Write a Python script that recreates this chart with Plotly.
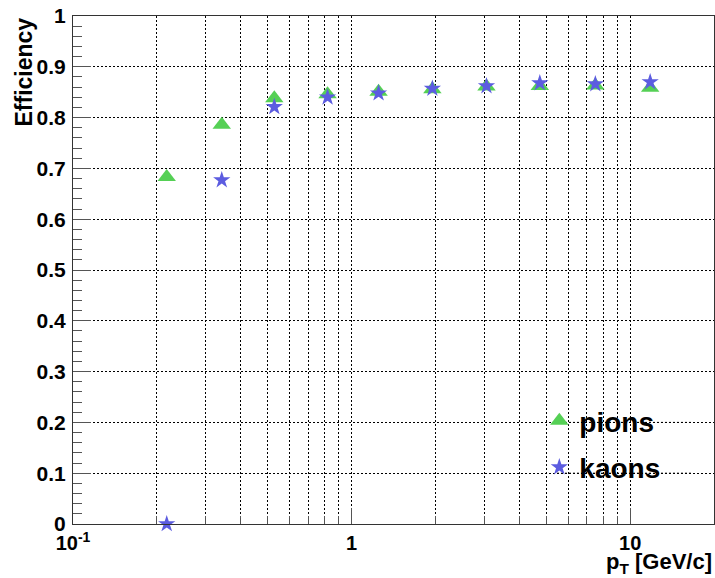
import plotly.graph_objects as go

# ---- data ----
pt = [0.217, 0.342, 0.528, 0.82, 1.25, 1.95, 3.05, 4.74, 7.5, 11.8]
eff_pions = [0.683, 0.786, 0.838, 0.846, 0.851, 0.856, 0.861, 0.862, 0.863, 0.859]
eff_kaons = [0.0, 0.677, 0.821, 0.840, 0.848, 0.857, 0.862, 0.868, 0.866, 0.870]
series_names = ["pions", "kaons"]
x_major_ticks = [0.1, 1, 10]
x_major_text = ["10<sup>-1</sup>", "1", "10"]
x_minor_ticks = [0.2, 0.3, 0.4, 0.5, 0.6, 0.7, 0.8, 0.9, 2, 3, 4, 5, 6, 7, 8, 9]

FONT = "Liberation Sans"
GREEN = "#55D055"
BLUE = "#5C5CE0"
GRID = dict(color="#000000", dash="2px,2px", width=1)

fig = go.Figure()
fig.add_trace(go.Scatter(
    x=pt, y=eff_pions, mode="markers", name=series_names[0], legendgroup="a",
    marker=dict(symbol="triangle-up", size=16, color=GREEN, line=dict(width=0)),
    cliponaxis=False))
fig.add_trace(go.Scatter(
    x=pt, y=eff_kaons, mode="markers", name=series_names[1], legendgroup="b",
    marker=dict(symbol="star", size=13, color=BLUE, line=dict(width=0)),
    cliponaxis=False))

# white patch (legend box) hiding vertical grid lines, horizontal ones redrawn
shapes = [dict(type="rect", xref="paper", yref="paper", x0=0.755, x1=0.965,
               y0=0.057, y1=0.254, fillcolor="white", line=dict(width=0),
               layer="between")]
for yv in (0.1, 0.2):
    shapes.append(dict(type="line", xref="paper", yref="y", x0=0.755, x1=0.965,
                       y0=yv, y1=yv, line=GRID, layer="between"))

fig.update_layout(
    width=715, height=578,
    margin=dict(l=73, r=1, t=16, b=54, autoexpand=False),
    paper_bgcolor="white", plot_bgcolor="white",
    showlegend=True,
    legend=dict(x=0.7275, y=0.252, xanchor="left", yanchor="top",
                bgcolor="rgba(0,0,0,0)", borderwidth=0,
                font=dict(family=FONT, size=28, color="black", weight="bold"),
                tracegroupgap=7, itemwidth=30),
    shapes=shapes,
    annotations=[
        dict(text="Efficiency", xref="paper", yref="paper", x=-0.078, y=1.0,
             xanchor="center", yanchor="top", textangle=-90, showarrow=False,
             font=dict(family=FONT, size=23, color="black", weight="bold")),
        dict(text="p<sub>T</sub> [GeV/c]", xref="paper", yref="paper", x=1.0, y=-0.077,
             xanchor="right", yanchor="middle", showarrow=False,
             font=dict(family=FONT, size=22, color="black", weight="bold")),
    ],
)

fig.update_xaxes(
    type="log", range=[-1, 1.30103],
    tickmode="array", tickvals=x_major_ticks, ticktext=x_major_text,
    ticks="inside", ticklen=16, tickcolor="#555", tickwidth=1,
    showgrid=True, gridcolor=GRID["color"], griddash=GRID["dash"], gridwidth=1,
    minor=dict(tickmode="array", tickvals=x_minor_ticks, ticks="inside", ticklen=8,
               tickcolor="#555", tickwidth=1, showgrid=True, gridcolor=GRID["color"],
               griddash=GRID["dash"], gridwidth=1),
    showline=True, linecolor="#333", linewidth=1, mirror=True,
    zeroline=False, ticklabelstandoff=1,
    tickfont=dict(family=FONT, size=20, color="black", weight="bold"),
)
fig.update_yaxes(
    range=[0, 1], tickmode="linear", tick0=0, dtick=0.1,
    ticks="inside", ticklen=18, tickcolor="#555", tickwidth=1,
    showgrid=True, gridcolor=GRID["color"], griddash=GRID["dash"], gridwidth=1,
    minor=dict(dtick=0.02, ticks="inside", ticklen=9, tickcolor="#555", tickwidth=1,
               showgrid=False),
    showline=True, linecolor="#333", linewidth=1, mirror=True,
    zeroline=False, ticklabelstandoff=2,
    tickfont=dict(family=FONT, size=21, color="black", weight="bold"),
)

fig.write_html("out.html", config={"displayModeBar": False},
               post_script="document.body.style.margin='0';")
